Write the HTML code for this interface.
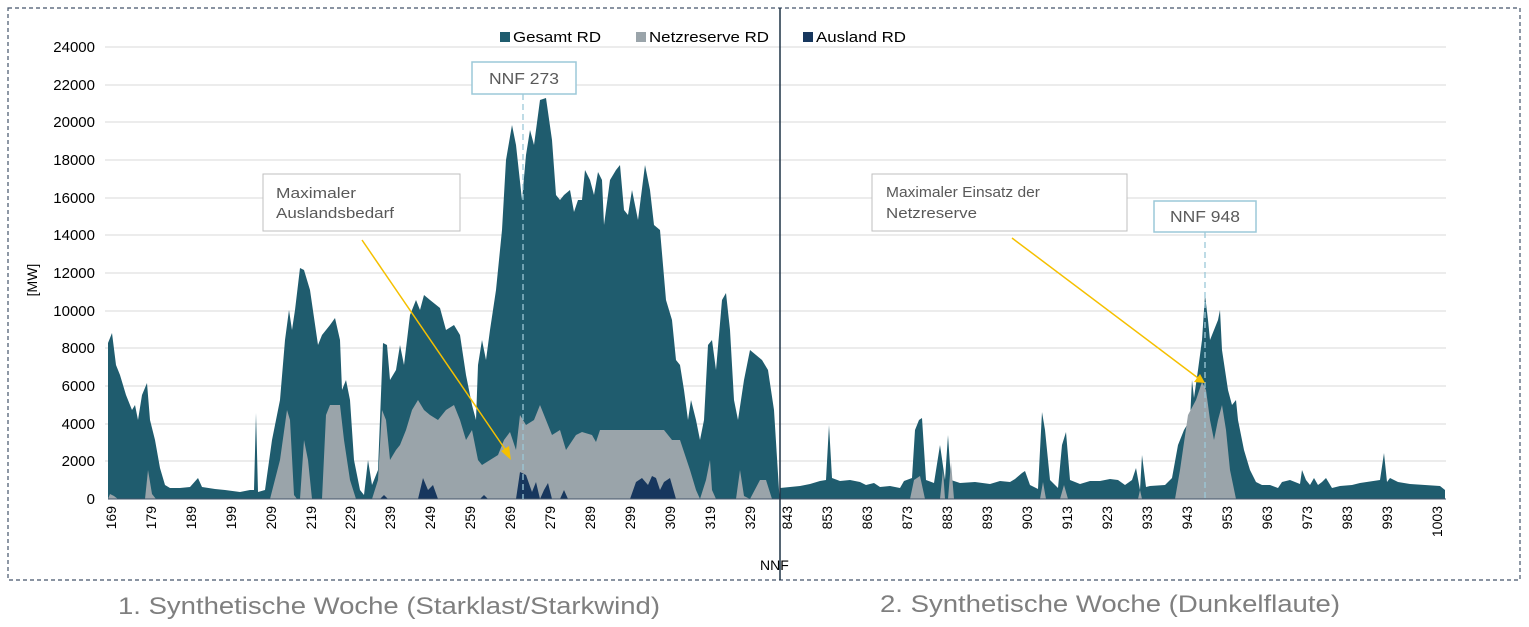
<!DOCTYPE html>
<html><head><meta charset="utf-8"><style>
body{margin:0;background:#fff;}
svg{display:block;font-family:"Liberation Sans",sans-serif;}
</style></head><body>
<svg width="1529" height="627" viewBox="0 0 1529 627" xmlns="http://www.w3.org/2000/svg">
<rect x="8" y="8" width="1512" height="572" fill="none" stroke="#44546a" stroke-width="1.2" stroke-dasharray="4,3"/>
<g stroke="#d9d9d9" stroke-width="1">
<line x1="105" x2="1446" y1="47" y2="47"/><line x1="105" x2="1446" y1="85" y2="85"/><line x1="105" x2="1446" y1="122" y2="122"/><line x1="105" x2="1446" y1="160" y2="160"/><line x1="105" x2="1446" y1="198" y2="198"/><line x1="105" x2="1446" y1="235" y2="235"/><line x1="105" x2="1446" y1="273" y2="273"/><line x1="105" x2="1446" y1="311" y2="311"/><line x1="105" x2="1446" y1="348" y2="348"/><line x1="105" x2="1446" y1="386" y2="386"/><line x1="105" x2="1446" y1="424" y2="424"/><line x1="105" x2="1446" y1="461" y2="461"/>
</g>
<g font-size="15" fill="#000" text-anchor="end">
<text x="95" y="52">24000</text><text x="95" y="90">22000</text><text x="95" y="127">20000</text><text x="95" y="165">18000</text><text x="95" y="203">16000</text><text x="95" y="240">14000</text><text x="95" y="278">12000</text><text x="95" y="316">10000</text><text x="95" y="353">8000</text><text x="95" y="391">6000</text><text x="95" y="429">4000</text><text x="95" y="466">2000</text><text x="95" y="504">0</text>
</g>
<text transform="translate(37,280) rotate(-90)" font-size="14" text-anchor="middle">[MW]</text>
<polygon fill="#1f5c6e" points="108,499 108,343 112,333 116,365 120,375 126,395 132,410 135,405 138,420 142,395 147,383 150,420 155,440 160,468 165,485 170,488 180,488 190,487 198,478 202,487 215,489 225,490 240,492 250,490 254,490 256,413 258,492 265,490 272,440 280,400 285,340 289,310 292,330 295,310 300,268 304,270 310,290 318,345 322,335 330,325 335,318 340,340 342,390 346,380 350,400 354,460 360,490 364,495 368,460 372,485 378,470 383,343 387,345 390,380 396,370 400,345 404,365 410,315 416,300 420,310 424,295 430,300 440,308 446,330 454,325 460,335 466,375 472,405 476,420 478,365 482,340 486,360 490,330 496,290 502,230 506,160 512,125 516,145 522,200 526,155 530,130 534,145 540,100 546,98 552,140 556,195 560,200 564,195 570,190 574,212 578,200 582,200 585,170 590,180 594,195 598,172 602,180 604,225 610,180 616,170 620,165 624,210 628,215 632,190 638,220 645,165 650,190 654,225 660,230 666,300 672,320 676,360 680,365 684,390 688,420 691,400 696,420 700,440 704,420 708,345 712,340 716,370 722,300 726,293 730,330 734,400 738,420 744,380 750,350 756,355 762,360 768,370 774,410 779,490 780,499"/>
<polygon fill="#1f5c6e" points="780,499 780,488 790,487 800,486 810,484 820,481 826,480 829,425 832,478 840,481 850,480 860,482 866,485 874,483 880,487 890,486 900,488 904,481 912,478 915,430 919,420 922,418 926,480 934,483 940,445 945,480 948,435 951,480 960,483 975,482 990,484 1000,481 1010,482 1015,479 1022,473 1025,471 1030,485 1038,489 1042,412 1045,430 1050,480 1058,488 1062,445 1066,432 1070,480 1080,484 1090,481 1100,481 1110,479 1118,480 1125,485 1132,480 1136,468 1140,490 1142,455 1146,487 1150,486 1165,485 1172,478 1178,445 1184,430 1190,420 1192,380 1194,398 1198,370 1202,340 1205,295 1208,320 1210,340 1214,330 1218,320 1220,310 1222,350 1228,390 1232,405 1236,400 1238,420 1244,450 1250,470 1256,482 1262,485 1270,485 1278,488 1282,482 1290,480 1300,484 1302,470 1306,480 1310,485 1314,478 1318,485 1322,482 1326,478 1332,488 1340,486 1352,485 1360,483 1380,480 1384,453 1387,482 1390,478 1398,482 1410,484 1440,486 1445,490 1445,499"/>
<polygon fill="#9aa4aa" points="108,499 110,494 114,496 118,499 145,499 148,470 152,494 156,499 270,499 280,460 287,410 290,420 294,495 297,499 300,499 304,440 308,460 312,499 322,499 326,415 330,405 340,405 344,440 350,480 356,499 372,499 378,480 382,410 386,420 390,460 396,450 400,445 406,430 412,410 418,400 424,410 430,415 438,420 446,410 454,405 460,420 466,440 472,430 478,460 482,465 490,460 498,455 504,440 510,432 516,450 520,415 526,425 534,420 540,405 546,420 552,435 560,430 566,450 576,435 582,432 592,435 596,442 600,430 616,430 640,430 664,430 672,440 680,440 690,470 696,490 700,499 706,480 710,460 712,490 716,499 736,499 740,470 744,496 750,499 760,480 766,480 772,499"/>
<polygon fill="#9aa4aa" points="910,499 914,480 920,476 925,499 940,499 943,470 945,499 948,499 951,462 954,499 1040,499 1043,482 1046,499 1060,499 1064,485 1068,499 1138,499 1140,490 1142,499 1175,499 1180,470 1188,415 1196,400 1202,382 1206,390 1210,420 1214,440 1218,420 1222,405 1226,430 1230,470 1236,499"/>
<g fill="#17375e">
<polygon points="418,499 423,478 428,490 433,485 438,499"/>
<polygon points="516,499 520,472 526,475 532,492 536,482 540,499 544,490 548,483 552,499 560,499 564,490 568,499"/>
<polygon points="630,499 636,482 642,478 648,485 652,476 656,478 660,490 664,482 670,478 676,499"/>
<polygon points="380,499 384,495 388,499"/><polygon points="480,499 484,495 488,499"/>
</g>
<line x1="108" x2="1446" y1="499" y2="499" stroke="#44546a" stroke-width="1"/>
<line x1="780" x2="780" y1="8" y2="580" stroke="#1f3347" stroke-width="1.5"/>
<line x1="523" x2="523" y1="94" y2="499" stroke="#9cc8d8" stroke-width="1.3" stroke-dasharray="6,4"/>
<line x1="1205" x2="1205" y1="232" y2="499" stroke="#9cc8d8" stroke-width="1.3" stroke-dasharray="6,4"/>
<rect x="472" y="62" width="104" height="32" fill="#fff" stroke="#9cc8d8" stroke-width="1.5"/>
<text x="524" y="84" font-size="16" fill="#595959" text-anchor="middle" textLength="70" lengthAdjust="spacingAndGlyphs">NNF 273</text>
<rect x="1154" y="201" width="102" height="31" fill="#fff" stroke="#9cc8d8" stroke-width="1.5"/>
<text x="1205" y="222" font-size="16" fill="#595959" text-anchor="middle" textLength="70" lengthAdjust="spacingAndGlyphs">NNF 948</text>
<rect x="263" y="174" width="197" height="57" fill="#fff" stroke="#bfbfbf"/>
<text x="276" y="198" font-size="15" fill="#595959" textLength="80" lengthAdjust="spacingAndGlyphs">Maximaler</text>
<text x="276" y="218" font-size="15" fill="#595959" textLength="118" lengthAdjust="spacingAndGlyphs">Auslandsbedarf</text>
<rect x="872" y="174" width="255" height="57" fill="#fff" stroke="#bfbfbf"/>
<text x="886" y="197" font-size="15" fill="#595959" textLength="154" lengthAdjust="spacingAndGlyphs">Maximaler Einsatz der</text>
<text x="886" y="218" font-size="15" fill="#595959" textLength="91" lengthAdjust="spacingAndGlyphs">Netzreserve</text>
<g stroke="#f5c000" stroke-width="1.5" fill="#f5c000">
<line x1="362" y1="240" x2="507" y2="452"/><polygon points="511,460 501,451 509,446" stroke="none"/>
<line x1="1012" y1="238" x2="1198" y2="378"/><polygon points="1205,383 1194,382 1200,374" stroke="none"/>
</g>
<rect x="500" y="32" width="10" height="10" fill="#1f5c6e"/><text x="513" y="42" font-size="15" textLength="88" lengthAdjust="spacingAndGlyphs">Gesamt RD</text>
<rect x="636" y="32" width="10" height="10" fill="#9aa4aa"/><text x="649" y="42" font-size="15" textLength="120" lengthAdjust="spacingAndGlyphs">Netzreserve RD</text>
<rect x="803" y="32" width="10" height="10" fill="#17375e"/><text x="816" y="42" font-size="15" textLength="90" lengthAdjust="spacingAndGlyphs">Ausland RD</text>
<g font-size="14" fill="#000" text-anchor="end">
<text transform="translate(116,506) rotate(-90)">169</text><text transform="translate(156,506) rotate(-90)">179</text><text transform="translate(196,506) rotate(-90)">189</text><text transform="translate(236,506) rotate(-90)">199</text><text transform="translate(276,506) rotate(-90)">209</text><text transform="translate(316,506) rotate(-90)">219</text><text transform="translate(355,506) rotate(-90)">229</text><text transform="translate(395,506) rotate(-90)">239</text><text transform="translate(435,506) rotate(-90)">249</text><text transform="translate(475,506) rotate(-90)">259</text><text transform="translate(515,506) rotate(-90)">269</text><text transform="translate(555,506) rotate(-90)">279</text><text transform="translate(595,506) rotate(-90)">289</text><text transform="translate(635,506) rotate(-90)">299</text><text transform="translate(675,506) rotate(-90)">309</text><text transform="translate(715,506) rotate(-90)">319</text><text transform="translate(755,506) rotate(-90)">329</text>
<text transform="translate(792,506) rotate(-90)">843</text><text transform="translate(832,506) rotate(-90)">853</text><text transform="translate(872,506) rotate(-90)">863</text><text transform="translate(912,506) rotate(-90)">873</text><text transform="translate(952,506) rotate(-90)">883</text><text transform="translate(992,506) rotate(-90)">893</text><text transform="translate(1032,506) rotate(-90)">903</text><text transform="translate(1072,506) rotate(-90)">913</text><text transform="translate(1112,506) rotate(-90)">923</text><text transform="translate(1152,506) rotate(-90)">933</text><text transform="translate(1192,506) rotate(-90)">943</text><text transform="translate(1232,506) rotate(-90)">953</text><text transform="translate(1272,506) rotate(-90)">963</text><text transform="translate(1312,506) rotate(-90)">973</text><text transform="translate(1352,506) rotate(-90)">983</text><text transform="translate(1392,506) rotate(-90)">993</text><text transform="translate(1442,506) rotate(-90)">1003</text>
</g>
<text x="760" y="570" font-size="14">NNF</text>
<text x="118" y="614" font-size="24" fill="#7f7f7f" textLength="542" lengthAdjust="spacingAndGlyphs">1. Synthetische Woche (Starklast/Starkwind)</text>
<text x="880" y="612" font-size="24" fill="#7f7f7f" textLength="460" lengthAdjust="spacingAndGlyphs">2. Synthetische Woche (Dunkelflaute)</text>
</svg>
</body></html>
